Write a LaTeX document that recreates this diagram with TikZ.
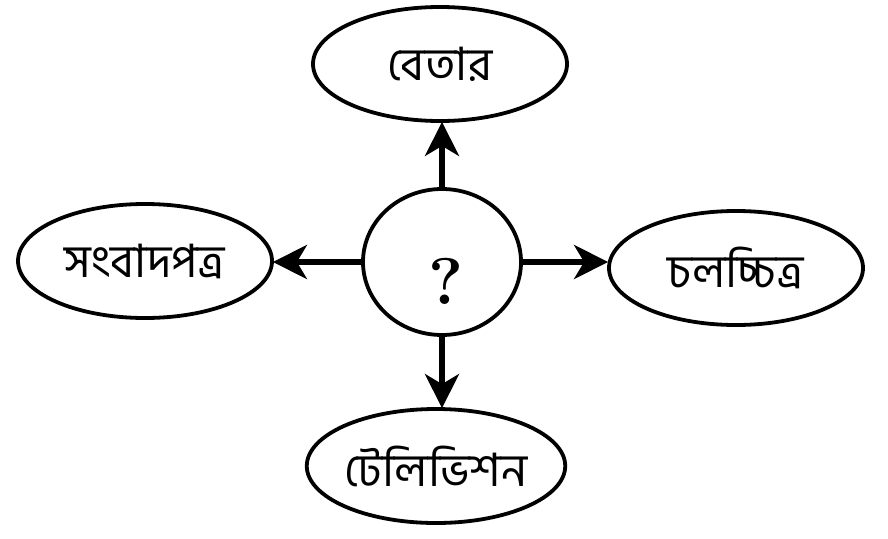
\documentclass[tikz,border=0pt]{standalone}
\usepackage{fontspec}
\usetikzlibrary{shapes.geometric,arrows.meta}
\newfontfamily\bnfont[Script=Bengali]{Hind Siliguri}
\begin{document}
\begin{tikzpicture}[x=1pt,y=-1pt,
  oval/.style={ellipse,draw,line width=3.8pt,minimum width=254pt,minimum height=114pt,inner sep=0pt,font=\bnfont\fontsize{46}{52}\selectfont},
  hub/.style={ellipse,draw,line width=3.8pt,minimum width=158pt,minimum height=146pt,inner sep=0pt},
  conn/.style={line width=5.5pt,-{Stealth[length=34pt,width=34pt,inset=10pt]},shorten >=-1pt}]
\useasboundingbox (0,0) rectangle (888,538);
\node[hub] (c) at (442,262) {};
\node[font=\bfseries\fontsize{66}{70}\selectfont] (q) at (446,281) {?};
\node[oval] (top) at (440,64) {বেতার};
\node[oval] (left) at (145,261) {সংবাদপত্র};
\node[oval] (right) at (736,268) {চলচ্চিত্র};
\node[oval] (bot) at (436,466) {টেলিভিশন};
\draw[conn] (c.north) -- (top.south -| c.north);
\draw[conn] (c.west) -- (left.east |- c.west);
\draw[conn] (c.east) -- (right.west |- c.east);
\draw[conn] (c.south) -- (bot.north -| c.south);
\end{tikzpicture}
\end{document}
